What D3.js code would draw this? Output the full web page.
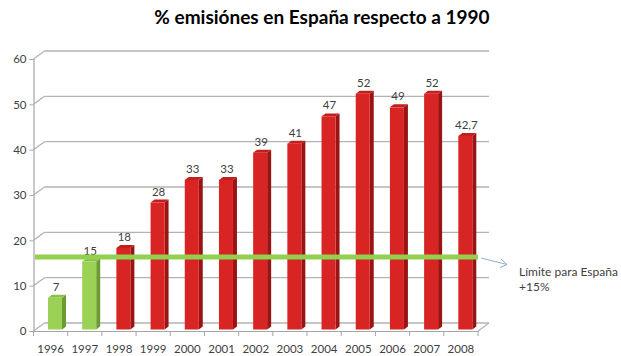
<!DOCTYPE html>
<html><head><meta charset="utf-8">
<script src="https://cdn.jsdelivr.net/npm/d3@7"></script>
<style>body{margin:0;background:#fff}svg{display:block}text{font-family:Lato,"Open Sans",sans-serif}</style>
</head><body>
<svg id="c" width="621" height="356"></svg>
<script>
const years = ["1996","1997","1998","1999","2000","2001","2002","2003","2004","2005","2006","2007","2008"];
const values = [7,15,18,28,33,33,39,41,47,52,49,52,42.7];
const labels = ["7","15","18","28","33","33","39","41","47","52","49","52","42,7"];
const greenYears = ["1996","1997"];
const yTicks = [0,10,20,30,40,50,60];
const limitValue = 15;
const title = "% emisiónes en España respecto a 1990";
const limitText = ["Límite para España","+15%"];

const svg = d3.select("#c");
const x = d3.scaleBand().domain(years).range([33.5, 478]);
const y = d3.scaleLinear().domain([0,60]).range([331,59]);
const bdx = 11, bdy = -8;   // depth of back wall
const g = svg.append("g");

yTicks.forEach(t => {
  const yy = y(t);
  g.append("line").attr("x1",33.5).attr("y1",yy).attr("x2",33.5+bdx).attr("y2",yy+bdy).attr("stroke","#b3b3b3").attr("stroke-width",1.3);
  g.append("line").attr("x1",33.5+bdx).attr("y1",yy+bdy).attr("x2",478+bdx).attr("y2",yy+bdy).attr("stroke","#b3b3b3").attr("stroke-width",1.3);
});
g.append("line").attr("x1",478).attr("y1",y(0)).attr("x2",478+bdx).attr("y2",y(0)+bdy).attr("stroke","#b3b3b3").attr("stroke-width",1.2);

const yAxis = d3.axisLeft(y).tickValues(yTicks).tickSize(4).tickPadding(3);
const ya = svg.append("g").attr("transform","translate(33.5,0)").call(yAxis);
ya.select(".domain").attr("stroke","#a6a6a6").attr("stroke-width",1.2);
ya.selectAll(".tick line").attr("stroke","#a6a6a6");
ya.selectAll("text").attr("fill","#404040").style("font-size","11.5px").style("font-family","Lato");

const xAxis = d3.axisBottom(x).tickSize(0).tickPadding(14);
const xa = svg.append("g").attr("transform",`translate(0,${y(0)})`).call(xAxis);
xa.select(".domain").attr("stroke","#a6a6a6").attr("stroke-width",1.2);
xa.selectAll("text").attr("fill","#404040").style("font-size","11.5px").style("font-family","Lato");
const bounds = years.map(d => x(d)).concat([x.range()[1]]);
xa.selectAll(".bt").data(bounds).enter().append("line")
  .attr("x1",d=>d).attr("x2",d=>d).attr("y1",0).attr("y2",5).attr("stroke","#a6a6a6");

const bw = 14, sdx = 4, sdy = -3, ox = 14.5, oy = -1.5;
const bars = svg.append("g");
years.forEach((yr,i) => {
  const green = greenYears.includes(yr);
  const cFront = green ? "#9bd155" : "#d92424";
  const cSide = green ? "#6e9a33" : "#9a1414";
  const cTop = green ? "#8cc24a" : "#c41d1d";
  const x0 = x(yr) + ox, x1 = x0 + bw;
  const yt = y(values[i]) + oy, yb = y(0) + oy;
  bars.append("polygon").attr("points",`${x1},${yt} ${x1+sdx},${yt+sdy} ${x1+sdx},${yb+sdy} ${x1},${yb}`).attr("fill",cSide);
  bars.append("polygon").attr("points",`${x0},${yt} ${x0+sdx},${yt+sdy} ${x1+sdx},${yt+sdy} ${x1},${yt}`).attr("fill",cTop);
  bars.append("rect").attr("x",x0).attr("y",yt).attr("width",bw).attr("height",yb-yt).attr("fill",cFront);
  bars.append("text").attr("x",x0+bw/2+1).attr("y",yt-7).attr("text-anchor","middle")
    .attr("fill","#404040").style("font-size","11.5px").text(labels[i]);
});

const ly = y(limitValue) - 6;
svg.append("line").attr("x1",35).attr("x2",478).attr("y1",ly).attr("y2",ly)
  .attr("stroke","#92d050").attr("stroke-width",5);

svg.append("line").attr("x1",481).attr("y1",ly+1).attr("x2",507).attr("y2",ly+7.5).attr("stroke","#8eaad8").attr("stroke-width",1);
svg.append("polyline").attr("points",`${501},${ly+2} ${507},${ly+7.5} ${500},${ly+10.5}`).attr("fill","none").attr("stroke","#8eaad8").attr("stroke-width",1);

svg.append("text").attr("x",519).attr("y",ly+19).attr("fill","#404040").style("font-size","12px").text(limitText[0]);
svg.append("text").attr("x",519).attr("y",ly+34).attr("fill","#404040").style("font-size","12px").text(limitText[1]);

svg.append("text").attr("x",322).attr("y",24).attr("text-anchor","middle").attr("fill","#000")
  .style("font-size","19px").style("font-weight","bold").text(title);
</script>
</body></html>
